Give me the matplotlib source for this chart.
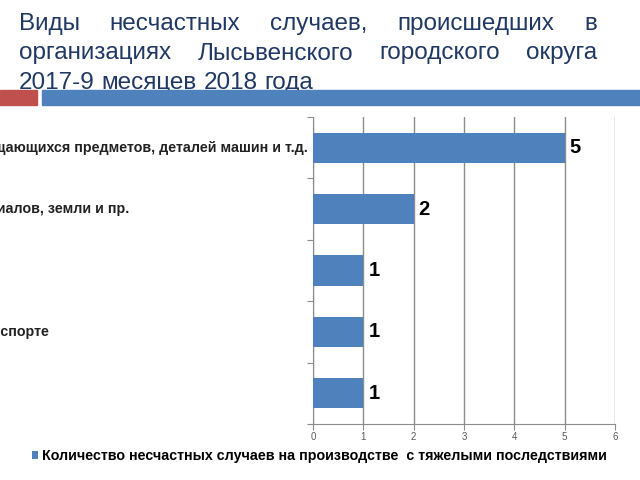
import matplotlib
matplotlib.use('Agg')
import matplotlib.pyplot as plt
import matplotlib.transforms as mtransforms
import numpy as np

plt.rcParams['font.family'] = ['Liberation Sans', 'DejaVu Sans']

# данные диаграммы (сверху вниз)
categories = [
    'Воздействие движущихся, разлетающихся, вращающихся предметов, деталей машин и т.д.',
    'Падение, обрушение, обвалы предметов, материалов, земли и пр.',
    'Падение пострадавшего с высоты',
    'Транспортные происшествия на городском транспорте',
    'Поражение электрическим током',
]
values = [5, 2, 1, 1, 1]
x_ticks = [0, 1, 2, 3, 4, 5, 6]
series_name = 'Количество несчастных случаев на производстве  с тяжелыми последствиями'

title_lines = [
    'Виды несчастных случаев, происшедших в',
    'организациях Лысьвенского городского округа',
    '2017-9 месяцев 2018 года',
]

BAR_BLUE = '#4F81BD'
RED = '#C0504D'
NAVY = '#1F3864'
GRID = '#8C8C8C'

W, H = 640, 480
fig = plt.figure(figsize=(6.4, 4.8), dpi=100)
renderer = fig.canvas.get_renderer()

# заголовок, выровненный по ширине
x0, x1 = 19, 597
baselines = [30, 59.5, 89]
for li, line in enumerate(title_lines):
    words = line.split()
    y = 1 - baselines[li] / H
    objs = [fig.text(0, y, w, fontsize=17.5, color=NAVY, va='baseline', ha='left') for w in words]
    widths = [t.get_window_extent(renderer).width for t in objs]
    if li < len(title_lines) - 1 and len(words) > 1:
        gap = (x1 - x0 - sum(widths)) / (len(words) - 1)
    else:
        gap = renderer.points_to_pixels(17.5) * 0.28
    x = x0
    for t, wdt in zip(objs, widths):
        t.set_x(x / W)
        x += wdt + gap

# декоративные полосы под заголовком
fig.patches.append(plt.Rectangle((0, 1 - 105 / H), 37 / W, 15 / H, transform=fig.transFigure,
                                 color=RED, zorder=5))
fig.patches.append(plt.Rectangle((42 / W, 1 - 105 / H), 1 - 42 / W, 15 / H, transform=fig.transFigure,
                                 color=BAR_BLUE, zorder=5))

# область диаграммы
ax = fig.add_axes([313 / W, 1 - 424 / H, (615 - 313) / W, (424 - 117) / H])
pos = np.arange(len(values))
bars = ax.barh(pos, values, height=0.49, color=BAR_BLUE, zorder=3, label=series_name)
ax.set_ylim(len(values) - 0.5, -0.5)
ax.set_xlim(x_ticks[0], x_ticks[-1])

for p, v in zip(pos, values):
    ax.text(v + 0.1, p, str(v), va='center', ha='left', fontsize=14.5, fontweight='bold', color='black')

ax.set_xticks(x_ticks)
ax.set_xticklabels([str(t) for t in x_ticks], fontsize=7, color='#595959')
ax.tick_params(axis='x', length=4, color=GRID, pad=1.5)
ax.xaxis.grid(True, color=GRID, linewidth=1, zorder=0)

# подписи категорий выровнены влево, слайд обрезан слева
ax.set_yticks(np.arange(-0.5, len(values)))
ax.set_yticklabels([])
ax.tick_params(axis='y', length=4, color=GRID)
trans = mtransforms.blended_transform_factory(fig.transFigure, ax.transData)
labels = [ax.text(0, p, c, transform=trans, ha='left', va='center', fontsize=10.3,
                  fontweight='bold', color='#222222') for p, c in zip(pos, categories)]
w_first = labels[0].get_window_extent(renderer).width
x_start = 308 - w_first
for t in labels:
    t.set_x(x_start / W)

for s in ['top', 'right']:
    ax.spines[s].set_visible(False)
for s in ['left', 'bottom']:
    ax.spines[s].set_color(GRID)

fig.legend(handles=[bars], labels=[series_name], loc='center', bbox_to_anchor=(319 / W, 1 - 456 / H),
           frameon=False, handlelength=0.45, handleheight=0.45, handletextpad=0.25,
           prop={'size': 10.3, 'weight': 'bold'})

fig.savefig('out.png', dpi=100)
